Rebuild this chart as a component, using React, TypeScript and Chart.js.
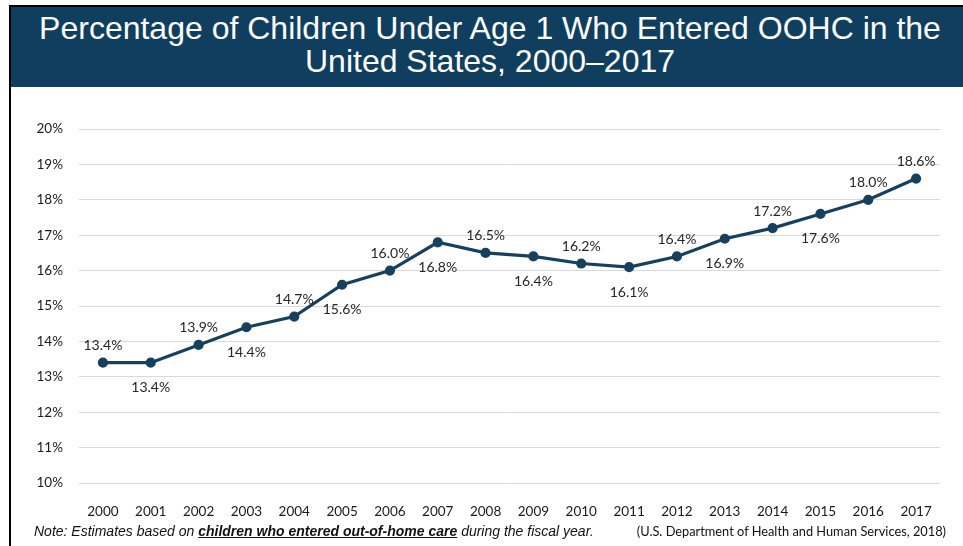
import React, { useEffect, useRef } from "react";
import { Chart, registerables } from "chart.js";

Chart.register(...registerables);

const years = [
  "2000", "2001", "2002", "2003", "2004", "2005", "2006", "2007", "2008",
  "2009", "2010", "2011", "2012", "2013", "2014", "2015", "2016", "2017",
];
const percentages = [
  13.4, 13.4, 13.9, 14.4, 14.7, 15.6, 16.0, 16.8, 16.5,
  16.4, 16.2, 16.1, 16.4, 16.9, 17.2, 17.6, 18.0, 18.6,
];
const labelSides = [
  "above", "below", "above", "below", "above", "below", "above", "below", "above",
  "below", "above", "below", "above", "below", "above", "below", "above", "above",
];
const yMin = 10;
const yMax = 20;
const yStep = 1;

const titleLines = [
  "Percentage of Children Under Age 1 Who Entered OOHC in the",
  "United States, 2000\u20132017",
];

const NAVY = "#0F3E5E";
const LINE = "#17405F";

const valueLabels = {
  id: "valueLabels",
  afterDatasetsDraw(chart: any) {
    const ctx = chart.ctx;
    const meta = chart.getDatasetMeta(0);
    ctx.save();
    ctx.font = "14px Lato";
    ctx.fillStyle = "#262626";
    ctx.textAlign = "center";
    ctx.textBaseline = "middle";
    meta.data.forEach((pt: any, i: number) => {
      const off = labelSides[i] === "above" ? -17 : 25;
      ctx.fillText(percentages[i].toFixed(1) + "%", pt.x, pt.y + off);
    });
    ctx.restore();
  },
};

export default function App() {
  const canvasRef = useRef<HTMLCanvasElement | null>(null);

  useEffect(() => {
    if (!canvasRef.current) return;
    const chart = new Chart(canvasRef.current, {
      type: "line",
      data: {
        labels: years,
        datasets: [
          {
            data: percentages,
            borderColor: LINE,
            backgroundColor: LINE,
            borderWidth: 3.2,
            pointRadius: 3.5,
            pointBackgroundColor: LINE,
            pointBorderColor: LINE,
            tension: 0,
            fill: false,
          },
        ],
      },
      options: {
        responsive: false,
        animation: false,
        devicePixelRatio: 1,
        layout: { padding: { top: 41, right: 23, bottom: 23, left: 0 } },
        plugins: {
          legend: { display: false },
          tooltip: { enabled: false },
          title: { display: false },
        },
        scales: {
          x: {
            offset: true,
            grid: { display: false, drawTicks: false },
            border: { display: false },
            ticks: {
              color: "#1a1a1a",
              font: { family: "Lato", size: 13.5 },
              padding: 21,
              maxRotation: 0,
              autoSkip: false,
            },
            afterFit(scale: any) {
              scale.height = 40;
            },
          },
          y: {
            min: yMin,
            max: yMax,
            grid: { color: "#D9D9D9", lineWidth: 1, drawTicks: false },
            border: { display: false },
            ticks: {
              stepSize: yStep,
              color: "#1a1a1a",
              font: { family: "Lato", size: 13.5 },
              padding: 16,
              callback: (v: any) => v + "%",
            },
            afterFit(scale: any) {
              scale.width = 79;
            },
          },
        },
      },
      plugins: [valueLabels],
    });
    return () => chart.destroy();
  }, []);

  return (
    <div
      style={{
        position: "fixed",
        left: 0,
        top: 0,
        width: 963,
        height: 546,
        background: "#fff",
        overflow: "hidden",
      }}
    >
      <canvas
        ref={canvasRef}
        width={963}
        height={458}
        style={{ position: "absolute", left: 0, top: 88, width: 963, height: 458 }}
      />
      <div style={{ position: "absolute", left: 9, top: 5, width: 954, height: 2, background: "#000" }} />
      <div style={{ position: "absolute", left: 9, top: 5, width: 2, height: 541, background: "#000" }} />
      <div style={{ position: "absolute", left: 11, top: 7, width: 952, height: 80, background: NAVY }} />
      <div
        style={{
          position: "absolute",
          left: 11,
          top: 12.4,
          width: 958,
          textAlign: "center",
          color: "#fff",
          fontFamily: "'Liberation Sans', Arial, sans-serif",
          fontSize: 32,
          lineHeight: "33px",
          whiteSpace: "nowrap",
        }}
      >
        {titleLines.map((l, i) => (
          <div key={i}>{l}</div>
        ))}
      </div>
      <div
        style={{
          position: "absolute",
          left: 34,
          top: 523.2,
          fontFamily: "'Liberation Sans', Arial, sans-serif",
          fontStyle: "italic",
          fontSize: 14,
          lineHeight: "16px",
          color: "#111",
          whiteSpace: "nowrap",
        }}
      >
        Note: Estimates based on{" "}
        <span style={{ fontWeight: "bold", textDecoration: "underline" }}>
          children who entered out-of-home care
        </span>{" "}
        during the fiscal year.
      </div>
      <div
        style={{
          position: "absolute",
          right: 963 - 946,
          top: 523,
          fontFamily: "Lato, sans-serif",
          fontSize: 12.8,
          lineHeight: "16px",
          color: "#111",
          whiteSpace: "nowrap",
        }}
      >
        (U.S. Department of Health and Human Services, 2018)
      </div>
    </div>
  );
}
